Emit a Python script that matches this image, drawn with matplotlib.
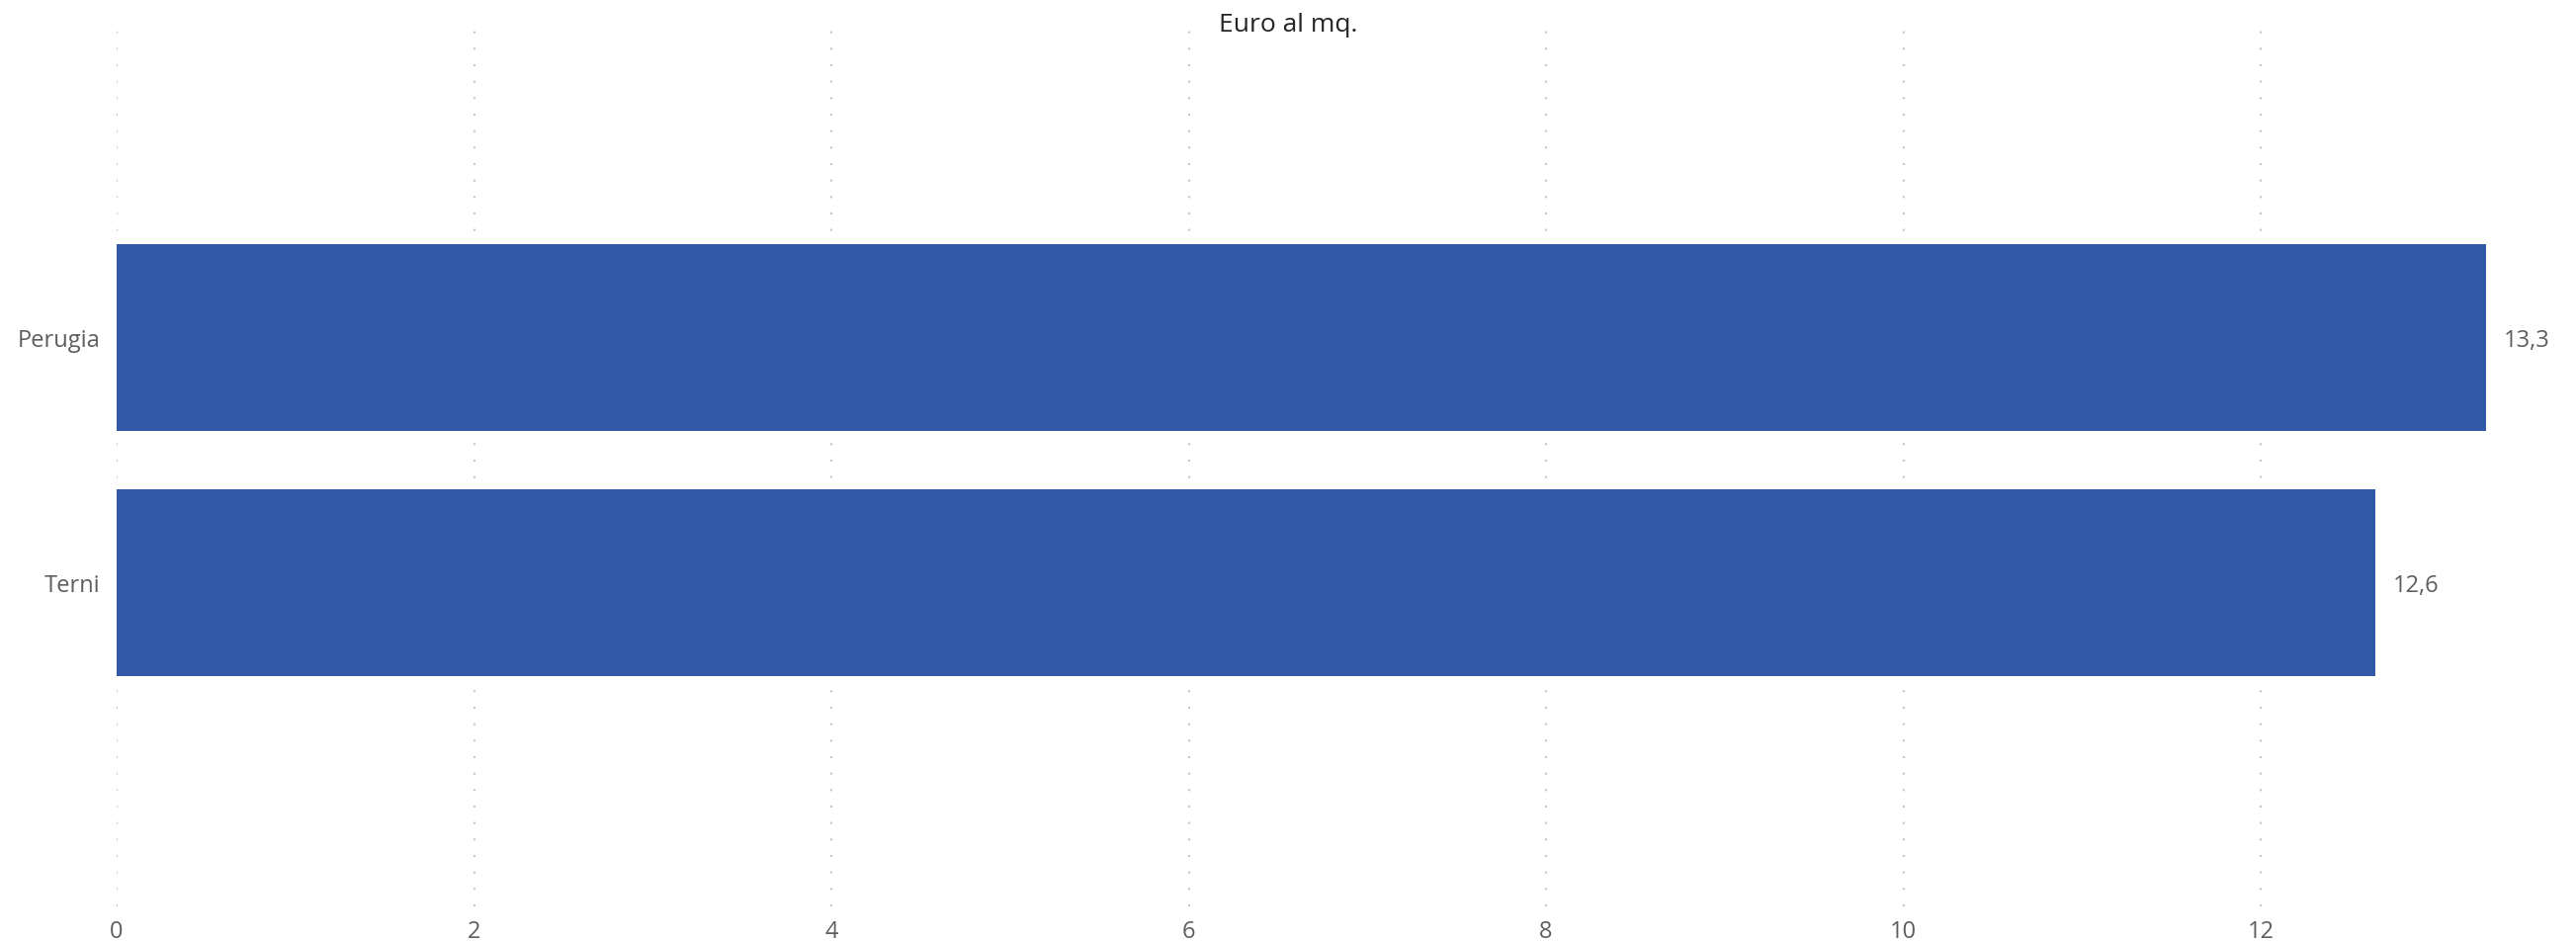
import matplotlib.pyplot as plt

# data
cities = ['Perugia', 'Terni']
euro_mq = [13.26, 12.64]
xticks = [0, 2, 4, 6, 8, 10, 12]

plt.rcParams['font.family'] = ['Open Sans', 'DejaVu Sans']

W, H = 2606, 952
fig = plt.figure(figsize=(W / 100, H / 100), dpi=100)

# axes in pixel coords: left 118, top 23, bottom 917
x0, y_top, y_bot = 118, 23, 917
px_per_unit = (2287 - 118) / 12
xmax = 13.6
ax = fig.add_axes([x0 / W, 1 - y_bot / H, xmax * px_per_unit / W, (y_bot - y_top) / H])

bar_color = '#3259A8'
ypos = list(range(len(cities)))
ax.barh(ypos, euro_mq, height=0.76, color=bar_color, zorder=3)

for y, v in zip(ypos, euro_mq):
    lab = f'{v:.1f}'.replace('.', ',')
    ax.text(v + 18 / px_per_unit, y, lab, va='center_baseline', ha='left',
            fontsize=17, color='#605E5C')

ax.set_xlim(0, xmax)
ax.set_ylim(2.32, -1.284)
ax.set_yticks(ypos)
ax.set_yticklabels(cities, va='center_baseline')
ax.set_xticks(xticks)
ax.set_xticklabels([str(t) for t in xticks])

ax.tick_params(axis='both', length=0, labelsize=17, labelcolor='#605E5C')
ax.tick_params(axis='y', pad=12)
ax.tick_params(axis='x', pad=10)

ax.grid(axis='x', color='#C8C6C4', linestyle=(0, (1, 7)), linewidth=1.5, zorder=0)
ax.grid(axis='y', visible=False)
for s in ax.spines.values():
    s.set_visible(False)

fig.text(0.5, 1 - 25 / H, 'Euro al mq.', ha='center', va='center',
         fontsize=19, color='#252423')

fig.savefig('out.png', dpi=100, facecolor='white')
